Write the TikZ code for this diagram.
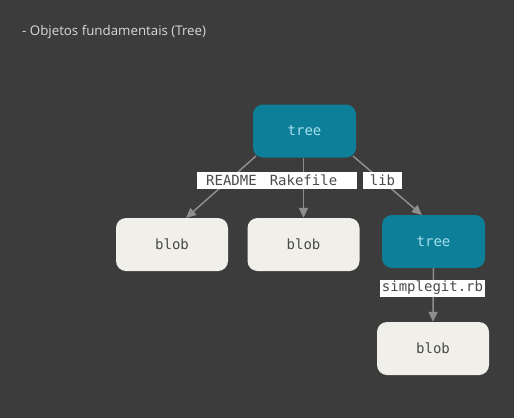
\documentclass[tikz,border=0pt]{standalone}
\usepackage{fontspec}
\setmainfont{Open Sans}
\setmonofont{DejaVu Sans Mono}
\usetikzlibrary{arrows.meta}
\definecolor{bg}{HTML}{3C3C3C}
\definecolor{teal}{HTML}{0E7F99}
\definecolor{treetxt}{HTML}{A6DFEE}
\definecolor{blobfill}{HTML}{F0EFEA}
\definecolor{blobtxt}{HTML}{4A4A48}
\definecolor{arr}{HTML}{8E8E8E}
\definecolor{titlec}{HTML}{D9D9D9}
\tikzset{
  monofont/.style={font=\ttfamily\fontsize{14}{16}\selectfont},
  treebox/.style={draw=none, fill=teal, rounded corners=10pt, minimum width=103pt, minimum height=53pt, text=treetxt, monofont},
  blobbox/.style={draw=none, fill=blobfill, rounded corners=10pt, minimum width=112pt, minimum height=53pt, text=blobtxt, monofont},
  lbl/.style={fill=white, text=blobtxt, inner sep=0pt, minimum height=17pt, monofont},
  conn/.style={draw=arr, line width=1.5pt, -{Triangle[length=10pt,width=9pt]}}
}
\begin{document}
\begin{tikzpicture}[x=1pt,y=-1pt]
\fill[bg] (0,0) rectangle (514,418);
\useasboundingbox (0,0) rectangle (514,418);
\node[anchor=base west, text=titlec, font=\fontsize{13.3}{16}\selectfont, inner sep=0pt] (title) at (22,35) {- Objetos fundamentais (Tree)};
\node[treebox] (t1) at (304.5,131) {tree};
\node[blobbox] (b1) at (172,244.5) {blob};
\node[blobbox] (b2) at (303.5,244.5) {blob};
\node[treebox] (t2) at (433.5,241.5) {tree};
\node[blobbox] (b3) at (433,348.5) {blob};
\coordinate (s1) at (256,156);
\coordinate (e1) at (186,218);
\coordinate (s3) at (353,156);
\coordinate (e3) at (422,215);
\draw[conn] (s1) -- (e1);
\draw[conn] (t1.south -| b2) -- (b2.north);
\draw[conn] (s3) -- (e3);
\draw[conn] (t2.south) -- (b3.north);
\node[lbl, anchor=west, text width=160pt, align=left] (lrk) at (197,180.5) {\hspace*{9pt}README\hspace*{13pt}Rakefile};
\node[lbl, minimum width=39pt] (ll) at (382.5,180.5) {lib};
\node[lbl, minimum width=105pt] (ls) at (432.5,288) {simplegit.rb};
\end{tikzpicture}
\end{document}
